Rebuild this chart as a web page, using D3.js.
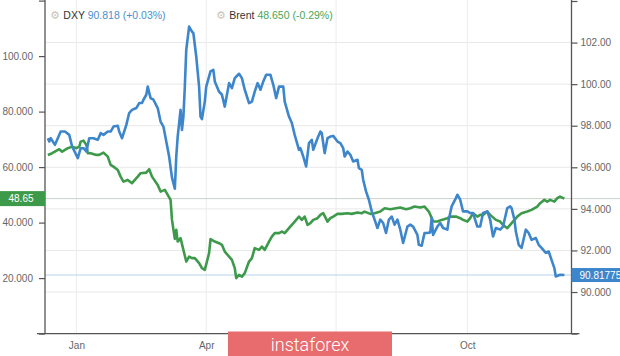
<!DOCTYPE html>
<html><head><meta charset="utf-8">
<script src="https://cdn.jsdelivr.net/npm/d3@7/dist/d3.min.js"></script>
<style>html,body{margin:0;padding:0;background:#fff;}svg{display:block;font-family:"Liberation Sans",Arial,sans-serif;}</style>
</head><body><svg id="c" width="620" height="356"></svg>
<script>
// DXY (right axis)
const dxy = [
["2019-12-12",97.40],["2019-12-13",97.24],["2019-12-14",97.40],["2019-12-17",97.08],["2019-12-21",97.72],["2019-12-24",97.72],["2019-12-27",97.56],["2019-12-29",97.00],
["2020-01-02",96.44],["2020-01-04",96.92],["2020-01-06",96.92],["2020-01-08",96.76],["2020-01-10",97.40],["2020-01-13",97.40],["2020-01-16",97.32],["2020-01-18",97.64],["2020-01-20",97.56],["2020-01-23",97.72],["2020-01-25",97.72],["2020-01-27",97.96],["2020-01-30",98.00],["2020-01-31",97.72],
["2020-02-02",97.40],["2020-02-05",98.04],["2020-02-07",98.61],["2020-02-09",98.76],["2020-02-12",98.85],["2020-02-14",99.09],["2020-02-16",99.09],["2020-02-17",99.25],["2020-02-19",99.49],["2020-02-20",99.88],["2020-02-22",99.33],["2020-02-24",99.25],["2020-02-27",98.85],["2020-02-29",98.20],
["2020-03-02",97.96],["2020-03-04",97.24],["2020-03-06",96.52],["2020-03-08",95.50],["2020-03-10",94.97],["2020-03-11",96.52],["2020-03-12",97.48],["2020-03-14",98.76],["2020-03-15",97.80],["2020-03-16",98.44],["2020-03-17",99.88],["2020-03-18",101.65],["2020-03-20",102.77],["2020-03-22",102.53],["2020-03-23",102.45],["2020-03-25",101.33],["2020-03-27",99.88],["2020-03-28",98.44],["2020-03-29",98.32],["2020-03-31",99.16],
["2020-04-01",99.88],["2020-04-04",100.61],["2020-04-06",100.69],["2020-04-07",100.13],["2020-04-10",99.64],["2020-04-12",99.49],["2020-04-14",98.92],["2020-04-17",100.05],["2020-04-19",99.81],["2020-04-21",100.29],["2020-04-24",100.50],["2020-04-26",100.29],["2020-04-28",99.73],
["2020-05-01",99.09],["2020-05-03",99.16],["2020-05-05",99.64],["2020-05-07",100.05],["2020-05-09",99.73],["2020-05-11",100.13],["2020-05-13",100.45],["2020-05-16",100.45],["2020-05-18",99.97],["2020-05-20",99.33],["2020-05-22",99.88],["2020-05-25",99.88],["2020-05-26",99.16],["2020-05-29",98.44],["2020-05-31",98.13],
["2020-06-02",97.56],["2020-06-05",96.84],["2020-06-06",96.92],["2020-06-08",96.52],["2020-06-10",96.04],["2020-06-12",97.16],["2020-06-14",97.32],["2020-06-15",96.84],["2020-06-18",97.40],["2020-06-20",97.72],["2020-06-21",97.64],["2020-06-23",96.68],["2020-06-25",97.40],["2020-06-27",97.48],["2020-06-29",97.51],
["2020-07-02",97.24],["2020-07-04",97.16],["2020-07-06",96.92],["2020-07-07",96.52],["2020-07-09",96.76],["2020-07-11",96.60],["2020-07-13",96.28],["2020-07-16",96.36],["2020-07-17",95.96],["2020-07-19",95.88],["2020-07-20",95.40],["2020-07-22",94.84],["2020-07-24",94.44],["2020-07-26",93.88],["2020-07-28",93.48],["2020-07-30",93.08],
["2020-08-01",93.48],["2020-08-03",93.32],["2020-08-05",92.84],["2020-08-07",93.48],["2020-08-09",93.63],["2020-08-11",93.24],["2020-08-13",93.48],["2020-08-15",93.00],["2020-08-17",92.36],["2020-08-20",93.15],["2020-08-22",93.24],["2020-08-24",93.15],["2020-08-27",92.75],["2020-08-28",92.27],["2020-08-30",92.23],
["2020-09-01",92.84],["2020-09-03",92.84],["2020-09-05",92.87],["2020-09-06",93.56],["2020-09-07",92.75],["2020-09-10",93.15],["2020-09-12",93.32],["2020-09-14",93.08],["2020-09-17",93.00],["2020-09-18",93.48],["2020-09-20",94.12],["2020-09-23",94.52],["2020-09-24",94.68],["2020-09-26",94.44],["2020-09-28",93.88],
["2020-10-01",93.88],["2020-10-03",93.80],["2020-10-05",93.80],["2020-10-08",93.15],["2020-10-10",93.15],["2020-10-12",93.80],["2020-10-15",93.88],["2020-10-17",93.48],["2020-10-19",92.67],["2020-10-21",93.08],["2020-10-24",93.00],["2020-10-26",93.15],["2020-10-29",94.04],["2020-10-31",94.12],
["2020-11-01",94.04],["2020-11-03",93.48],["2020-11-04",92.91],["2020-11-06",92.27],["2020-11-08",92.12],["2020-11-11",93.00],["2020-11-13",92.84],["2020-11-15",92.51],["2020-11-18",92.60],["2020-11-20",92.27],["2020-11-22",92.12],["2020-11-25",91.88],["2020-11-27",91.95],["2020-11-29",91.55],
["2020-12-01",91.15],["2020-12-02",90.75],["2020-12-05",90.83],["2020-12-08",90.82]
];
// Brent (left axis)
const brent = [
["2019-12-12",64.39],["2019-12-15",65.00],["2019-12-20",66.44],["2019-12-22",65.57],["2019-12-26",66.80],["2019-12-29",67.37],
["2020-01-01",66.80],["2020-01-03",67.37],["2020-01-04",69.18],["2020-01-06",69.54],["2020-01-08",67.99],["2020-01-09",65.00],["2020-01-11",65.00],["2020-01-15",64.39],["2020-01-17",64.39],["2020-01-20",65.21],["2020-01-23",63.77],["2020-01-25",60.79],["2020-01-27",60.17],["2020-01-30",58.98],
["2020-02-01",56.57],["2020-02-03",54.77],["2020-02-06",55.38],["2020-02-09",54.19],["2020-02-13",56.57],["2020-02-15",57.80],["2020-02-19",58.01],["2020-02-21",59.24],["2020-02-23",56.57],["2020-02-27",53.58],["2020-02-29",51.17],
["2020-03-03",51.78],["2020-03-05",49.98],["2020-03-07",48.18],["2020-03-08",40.98],["2020-03-10",34.14],["2020-03-11",37.38],["2020-03-12",33.17],["2020-03-14",34.39],["2020-03-16",30.18],["2020-03-18",25.96],["2020-03-20",27.76],["2020-03-22",27.19],["2020-03-24",27.19],["2020-03-27",25.39],["2020-03-29",23.59],["2020-03-31",22.97],
["2020-04-03",28.99],["2020-04-04",34.03],["2020-04-07",33.17],["2020-04-10",32.59],["2020-04-12",31.98],["2020-04-14",29.56],["2020-04-17",27.76],["2020-04-19",26.58],["2020-04-21",23.59],["2020-04-22",19.99],["2020-04-24",21.17],["2020-04-26",20.56],["2020-04-28",21.79],
["2020-05-01",25.96],["2020-05-03",27.19],["2020-05-05",30.79],["2020-05-08",30.18],["2020-05-10",31.36],["2020-05-12",30.18],["2020-05-15",33.17],["2020-05-17",34.97],["2020-05-19",36.19],["2020-05-22",36.19],["2020-05-24",36.77],["2020-05-26",36.19],["2020-05-29",37.99],["2020-05-31",39.18],
["2020-06-02",40.37],["2020-06-05",42.17],["2020-06-07",40.98],["2020-06-09",42.17],["2020-06-11",39.18],["2020-06-13",39.79],["2020-06-15",40.98],["2020-06-18",41.59],["2020-06-20",42.78],["2020-06-22",43.39],["2020-06-25",40.37],["2020-06-27",41.59],["2020-06-29",42.17],
["2020-07-02",43.14],["2020-07-05",43.14],["2020-07-09",43.39],["2020-07-12",43.14],["2020-07-16",43.61],["2020-07-19",43.39],["2020-07-21",43.97],["2020-07-25",43.14],["2020-07-28",43.39],
["2020-08-01",43.97],["2020-08-04",45.19],["2020-08-08",44.83],["2020-08-12",45.19],["2020-08-15",45.41],["2020-08-19",44.83],["2020-08-22",45.19],["2020-08-25",45.77],["2020-08-29",45.41],
["2020-09-01",45.77],["2020-09-04",43.97],["2020-09-06",41.70],["2020-09-07",40.37],["2020-09-10",40.37],["2020-09-13",40.98],["2020-09-17",41.59],["2020-09-19",42.17],["2020-09-23",42.17],["2020-09-26",41.59],["2020-09-28",40.98],
["2020-10-01",40.37],["2020-10-03",41.59],["2020-10-05",43.39],["2020-10-08",42.17],["2020-10-10",42.78],["2020-10-12",42.78],["2020-10-15",43.97],["2020-10-17",42.78],["2020-10-21",40.98],["2020-10-24",40.37],["2020-10-26",39.18],["2020-10-29",37.99],["2020-10-31",39.18],
["2020-11-03",40.98],["2020-11-05",42.17],["2020-11-08",43.39],["2020-11-12",43.97],["2020-11-15",44.58],["2020-11-19",45.77],["2020-11-21",46.99],["2020-11-24",48.18],["2020-11-26",47.57],["2020-11-28",48.18],
["2020-12-01",47.57],["2020-12-03",48.79],["2020-12-05",49.37],["2020-12-08",48.65]
];
const leftTicks = [0,20,40,60,80,100,120];
const leftTickLabels = ["","20.000","40.000","60.000","80.000","100.00",""];
const rightTicks = [88,90,92,94,96,98,100,102,104];
const rightTickLabels = ["","90.000","92.000","94.000","96.000","98.000","100.00","102.00",""];
const gridMonths = ["2020-01-01","2020-04-01","2020-07-01","2020-10-01"];
const labelMonths = ["2020-01-01","2020-04-01","2020-10-01"];
const monthLabels = ["Jan","Apr","Oct"];
const xDomain = ["2019-12-10","2020-12-13"];
const brentLast = "48.65", dxyLast = "90.81775";
const legend = [
  {name:"DXY", value:"90.818 (+0.03%)", color:"#4a8fd0"},
  {name:"Brent", value:"48.650 (-0.29%)", color:"#4aa556"}
];

const parse = d3.utcParse("%Y-%m-%d");
const svg = d3.select("#c");
const L = 45, R = 571.5, B = 333.6;
const x = d3.scaleUtc().domain(xDomain.map(parse)).range([L, R]);
const yL = d3.scaleLinear().domain([0,120]).range([B, 0.6]);
const yR = d3.scaleLinear().domain([88,104]).range([B, 1.0]);
const blue = "#3d86cb", green = "#3e9a4b";

// grid
svg.append("g").selectAll("line").data(rightTicks.slice(1,-1)).join("line")
  .attr("x1",L).attr("x2",R).attr("y1",d=>yR(d)).attr("y2",d=>yR(d))
  .attr("stroke","#e8e8e8").attr("stroke-width",1);
svg.append("g").selectAll("line").data(gridMonths.map(parse)).join("line")
  .attr("y1",0).attr("y2",B).attr("x1",d=>x(d)).attr("x2",d=>x(d))
  .attr("stroke","#ececec").attr("stroke-width",1);

// price lines
svg.append("line").attr("x1",L).attr("x2",620).attr("y1",yL(+brentLast)).attr("y2",yL(+brentLast))
  .attr("stroke","#c9d2cb").attr("stroke-width",1);
svg.append("line").attr("x1",L).attr("x2",R).attr("y1",yR(+dxyLast)).attr("y2",yR(+dxyLast))
  .attr("stroke","#b7d2ec").attr("stroke-width",1);

// series
const lineL = d3.line().x(d=>x(parse(d[0]))).y(d=>yL(d[1]));
const lineR = d3.line().x(d=>x(parse(d[0]))).y(d=>yR(d[1]));
svg.append("path").attr("d",lineL(brent)).attr("fill","none").attr("stroke",green).attr("stroke-width",2.6).attr("stroke-linejoin","round");
svg.append("path").attr("d",lineR(dxy)).attr("fill","none").attr("stroke",blue).attr("stroke-width",2.6).attr("stroke-linejoin","round");

// axes
const axL = d3.axisLeft(yL).tickValues(leftTicks).tickSize(6).tickFormat((d,i)=>leftTickLabels[i]);
const gL = svg.append("g").attr("transform",`translate(${L},0)`).call(axL);
const axR = d3.axisRight(yR).tickValues(rightTicks).tickSize(6).tickFormat((d,i)=>rightTickLabels[i]);
const gR = svg.append("g").attr("transform",`translate(${R},0)`).call(axR);
const axB = d3.axisBottom(x).tickValues(labelMonths.map(parse)).tickSize(0).tickFormat((d,i)=>monthLabels[i]);
const gB = svg.append("g").attr("transform",`translate(0,${B})`).call(axB);
[gL,gR,gB].forEach(g=>{
  g.select(".domain").attr("stroke","#555").attr("stroke-width",1.3);
  g.selectAll(".tick line").attr("stroke","#555").attr("stroke-width",1.2);
  g.selectAll("text").attr("fill","#666").style("font-size","10px").style("font-family","Liberation Sans, Arial, sans-serif");
});
gL.select(".domain").attr("d",`M0,0V${B}`);
gR.select(".domain").attr("d",`M0,0V${B}`);
gB.select(".domain").attr("d",`M${L-8},0H${R+8}`);
gL.selectAll(".tick text").attr("x",-12);
gR.selectAll(".tick text").attr("x",9);
gB.selectAll(".tick text").attr("dy","1.25em");

// last value labels
svg.append("rect").attr("x",0).attr("y",yL(+brentLast)-7.5).attr("width",L).attr("height",15).attr("fill",green);
svg.append("text").attr("x",21).attr("y",yL(+brentLast)).attr("dy","0.35em").attr("text-anchor","middle")
  .attr("fill","#fff").style("font-size","10px").text(brentLast);
svg.append("rect").attr("x",R).attr("y",yR(+dxyLast)-7).attr("width",620-R).attr("height",14).attr("fill",blue);
svg.append("text").attr("x",R+8).attr("y",yR(+dxyLast)).attr("dy","0.35em")
  .attr("fill","#fff").style("font-size","10px").text(dxyLast);

// legend
const lg = svg.append("g");
const lx = [50, 216];
legend.forEach((d,i)=>{
  const t = lg.append("text").attr("x",lx[i]).attr("y",19).style("font-size","10.5px");
  t.append("tspan").attr("fill","#c4c4c4").style("font-family","DejaVu Sans").style("font-size","11px").text("\u2699 ");
  t.append("tspan").attr("fill","#333").text(d.name+" ");
  t.append("tspan").attr("fill",d.color).text(d.value);
});

// watermark
svg.append("rect").attr("x",228).attr("y",331.5).attr("width",164).attr("height",24.5).attr("fill","#e86b6d");
svg.append("text").attr("x",310).attr("y",350.5).attr("text-anchor","middle").attr("fill","#fff")
  .style("font-family","Roboto").style("font-weight","300").style("font-size","18px").text("instaforex");
</script></body></html>
